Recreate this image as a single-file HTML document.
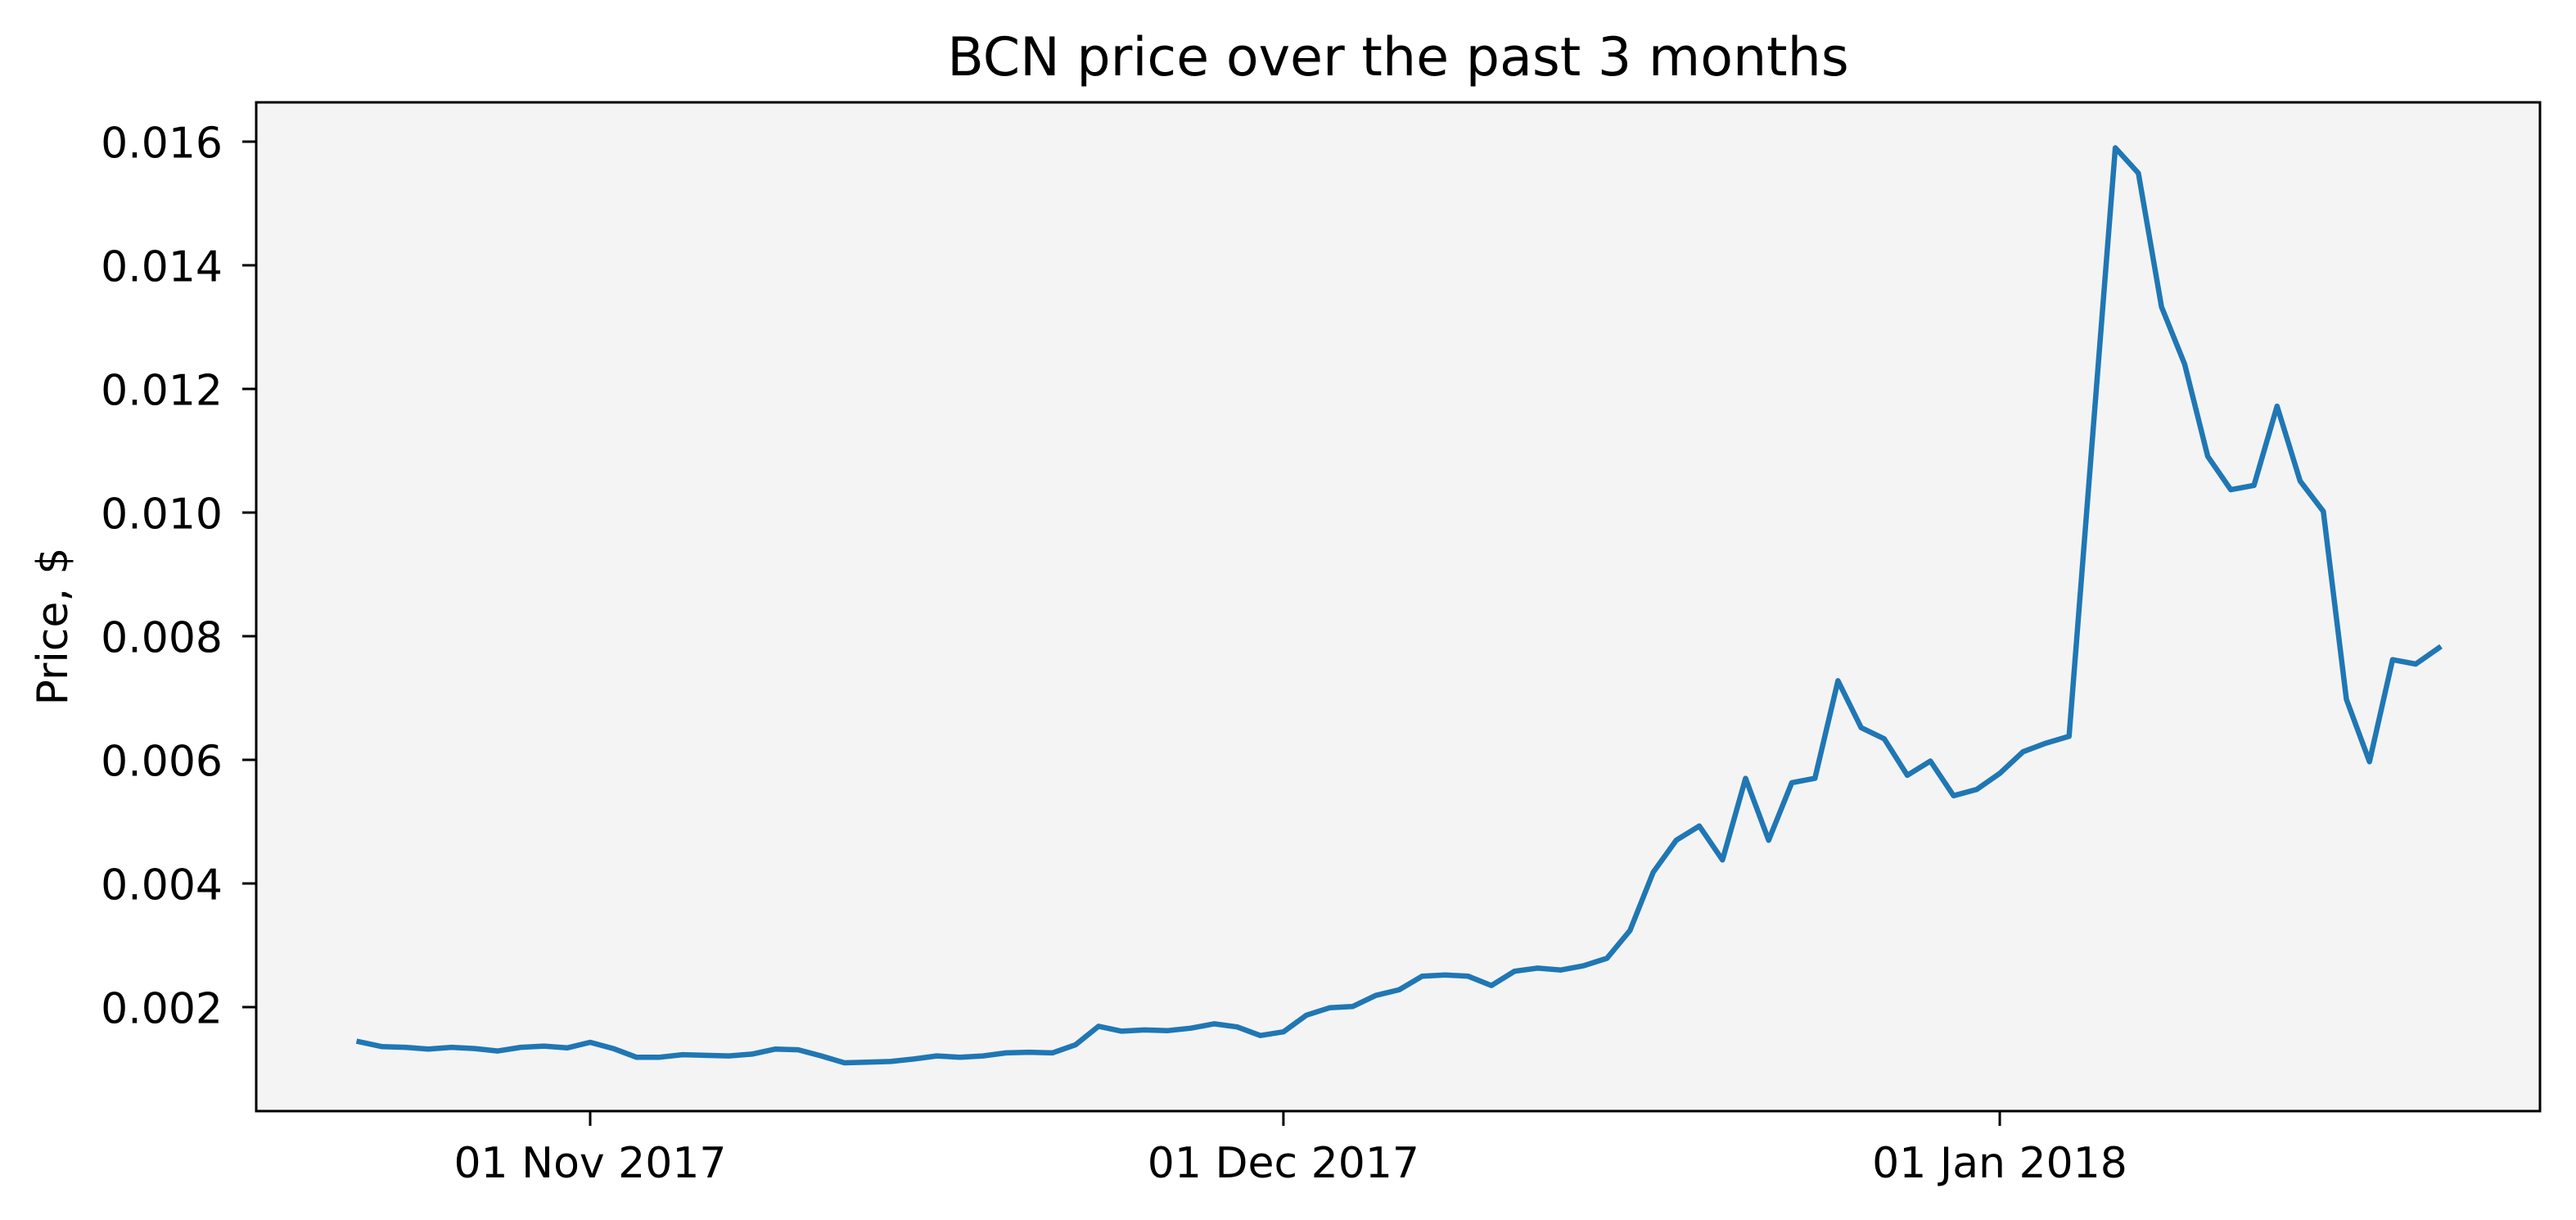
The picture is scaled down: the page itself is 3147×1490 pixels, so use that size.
<!DOCTYPE html>
<html><head><meta charset="utf-8"><style>
html,body{margin:0;padding:0;background:#fff;}
svg{display:block;font-family:"DejaVu Sans","Liberation Sans",sans-serif;}
</style></head><body>
<svg id="chart" width="3147" height="1490" viewBox="0 0 3147 1490" xmlns="http://www.w3.org/2000/svg">
<rect x="0" y="0" width="3147" height="1490" fill="#fff"/>
<rect x="313" y="125" width="2790" height="1232" fill="#f4f4f4"/>
<g id="grid"></g>
<path id="line" fill="none" stroke="#1f77b4" stroke-width="6.5" stroke-linejoin="round" stroke-linecap="square"/>
<rect x="313" y="125" width="2790" height="1232" fill="none" stroke="#000" stroke-width="3"/>
<g id="yticks"></g>
<g id="xticks"></g>
<text x="1708" y="92" font-size="65" text-anchor="middle" fill="#000">BCN price over the past 3 months</text>
<text x="0" y="0" font-size="52" text-anchor="middle" fill="#000" transform="translate(82,765) rotate(-90)">Price, $</text>
</svg>
<script>
const prices = [0.00144,0.00136,0.00135,0.00132,0.00135,0.00133,0.00129,0.00135,0.00137,0.00134,
0.00143,0.00133,0.00119,0.00119,0.00123,0.00122,0.00121,0.00124,0.00132,0.00131,
0.00121,0.00110,0.00111,0.00112,0.00116,0.00121,0.00119,0.00121,0.00126,0.00127,
0.00126,0.00139,0.00169,0.00161,0.00163,0.00162,0.00166,0.00173,0.00168,0.00154,
0.00160,0.00187,0.00199,0.00201,0.00219,0.00228,0.00250,0.00252,0.00250,0.00235,
0.00258,0.00263,0.00260,0.00267,0.00279,0.00324,0.00418,0.00470,0.00493,0.00438,
0.00570,0.00470,0.00563,0.00570,0.00728,0.00652,0.00634,0.00575,0.00598,0.00542,
0.00552,0.00578,0.00613,0.00627,0.00638,0.01114,0.01590,0.01549,0.01333,0.01240,
0.01091,0.01037,0.01044,0.01172,0.01051,0.01002,0.00698,0.00597,0.00762,0.00755,0.00781];
const startDay = -10; // days relative to 01 Nov 2017
const yTickValues = [0.002,0.004,0.006,0.008,0.010,0.012,0.014,0.016];
const yTickLabels = ["0.002","0.004","0.006","0.008","0.010","0.012","0.014","0.016"];
const xTickDays = [0,30,61];
const xTickLabels = ["01 Nov 2017","01 Dec 2017","01 Jan 2018"];

const NS="http://www.w3.org/2000/svg";
const x = d => 721 + (d)*28.23;
const y = v => 173 + (0.016 - v)*75500;

let dstr="";
prices.forEach((p,i)=>{dstr += (i?"L":"M")+x(startDay+i).toFixed(1)+","+y(p).toFixed(1);});
document.getElementById("line").setAttribute("d",dstr);

const yg=document.getElementById("yticks");
yTickValues.forEach((v,i)=>{
  const t=document.createElementNS(NS,"line");
  t.setAttribute("x1",296);t.setAttribute("x2",313);
  t.setAttribute("y1",y(v));t.setAttribute("y2",y(v));
  t.setAttribute("stroke","#000");t.setAttribute("stroke-width","3");
  
  
  yg.appendChild(t);
  const l=document.createElementNS(NS,"text");
  l.setAttribute("x",272);l.setAttribute("y",y(v)+19.5);
  l.setAttribute("font-size","52");l.setAttribute("text-anchor","end");
  l.textContent=yTickLabels[i];
  
  
  yg.appendChild(l);
});
const xg=document.getElementById("xticks");
xTickDays.forEach((d,i)=>{
  const t=document.createElementNS(NS,"line");
  t.setAttribute("x1",x(d));t.setAttribute("x2",x(d));
  t.setAttribute("y1",1357);t.setAttribute("y2",1375);
  t.setAttribute("stroke","#000");t.setAttribute("stroke-width","3");
  
  
  xg.appendChild(t);
  const l=document.createElementNS(NS,"text");
  l.setAttribute("x",x(d));l.setAttribute("y",1438);
  l.setAttribute("font-size","52");l.setAttribute("text-anchor","middle");
  l.textContent=xTickLabels[i];
  
  
  xg.appendChild(l);
});
</script>
</body></html>
